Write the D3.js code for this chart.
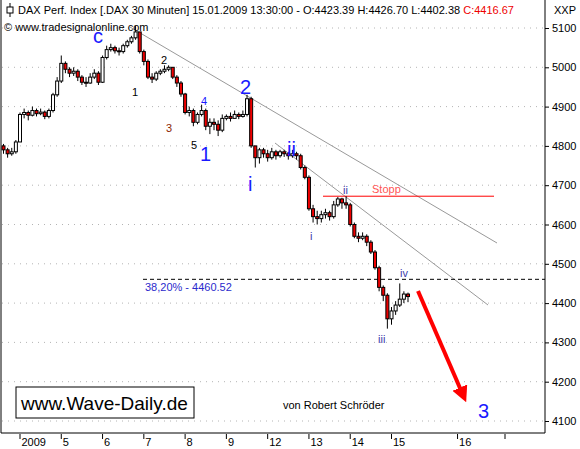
<!DOCTYPE html>
<html><head><meta charset="utf-8">
<script src="https://cdn.jsdelivr.net/npm/d3@7"></script>
<style>body{margin:0;background:#fff}text{font-family:"Liberation Sans",Arial,sans-serif}</style>
</head><body><div id="chart"></div>
<script>
// 30 min candles, 30.12.2008 .. 15.01.2009 13:30
const closes = [4790,4780,4785,4810,
 4880,4885,4878,4890,4882,4886,4875,4890,4930,4965,
 5010,4995,4985,4990,4975,4962,4960,4975,4985,4962,
 5025,5045,5050,5042,5040,5055,5065,5075,5090,5040,
 5015,4975,4970,4985,4990,4995,5000,4975,4960,4932,
 4885,4890,4860,4880,4890,4850,4860,4855,4840,4870,
 4875,4870,4880,4875,4880,4920,4800,4770,4790,4780,
 4770,4785,4775,4785,4780,4775,4780,4775,4745,4720,
 4640,4620,4615,4625,4630,4620,4650,4665,4655,4650,
 4600,4570,4565,4570,4555,4530,4490,4440,4420,4360,
 4380,4395,4410,4423,4416.67]
const highs = [4805,4795,4795,4815,
 4885,4895,4890,4900,4895,4895,4890,4895,4935,4975,
 5030,5015,5000,5000,4995,4980,4975,4985,4995,4990,
 5030,5055,5060,5055,5050,5060,5070,5080,5105,5090,
 5045,5020,4985,4990,4995,5005,5005,5000,4980,4965,
 4935,4900,4895,4885,4905,4895,4870,4870,4865,4880,
 4880,4885,4890,4885,4890,4930,4925,4800,4795,4795,
 4790,4795,4790,4790,4790,4785,4790,4785,4780,4750,
 4725,4650,4635,4635,4640,4635,4660,4670,4668,4672,
 4655,4605,4580,4580,4575,4560,4535,4495,4445,4425,
 4390,4405,4450,4430,4426.70]
const lows = [4780,4770,4775,4780,
 4810,4870,4865,4875,4875,4878,4868,4870,4885,4925,
 4960,4985,4975,4978,4965,4955,4950,4958,4970,4955,
 4960,5020,5040,5035,5030,5035,5050,5060,5070,5035,
 5005,4970,4960,4965,4980,4985,4990,4970,4950,4925,
 4880,4875,4850,4855,4875,4840,4830,4840,4825,4835,
 4865,4862,4870,4868,4872,4875,4795,4745,4755,4770,
 4760,4765,4765,4770,4772,4765,4770,4765,4740,4715,
 4635,4605,4600,4605,4615,4610,4615,4645,4640,4640,
 4595,4565,4555,4560,4545,4525,4485,4430,4405,4335,
 4345,4370,4390,4400,4402.38]
const dayLabels = ["2009","5","6","7","8","9","12","13","14","15","16",""]
const dayIdx = [4,14,24,34,44,54,64,74,84,94,110,121.5]
const yTicks = [4100,4200,4300,4400,4500,4600,4700,4800,4900,5000,5100]

const w = 580, h = 449, plotR = 545, plotB = 433
const svg = d3.select('#chart').append('svg').attr('width', w).attr('height', h)

const x = d3.scaleLinear().domain([4, 94]).range([20, 391.5])
const y = d3.scaleLinear().domain([4100, 5100]).range([421, 28])

// grid
svg.append('g').selectAll('line').data(yTicks).enter().append('line')
  .attr('x1', 2).attr('x2', plotR).attr('y1', d => y(d)).attr('y2', d => y(d))
  .attr('stroke', '#b4b4b4').attr('stroke-dasharray', '1,5')

// frame
svg.append('path').attr('d', `M1,0V${plotB}H${plotR}V0`).attr('fill', 'none').attr('stroke', '#000')

// right axis
const yAxis = d3.axisRight(y).tickValues(yTicks).tickSize(4).tickFormat(d3.format('d'))
const ga = svg.append('g').attr('transform', `translate(${plotR},0)`).call(yAxis)
ga.select('.domain').remove()
ga.selectAll('text').attr('font-size', 11).attr('x', 7).attr('font-family', '"Liberation Sans",Arial')
svg.append('text').attr('x', 554).attr('y', 14).attr('font-size', 11).text('XXP')

// bottom axis
const gx = svg.append('g')
gx.selectAll('line').data(dayIdx).enter().append('line')
  .attr('x1', d => x(d)).attr('x2', d => x(d)).attr('y1', plotB + 1).attr('y2', plotB + 6).attr('stroke', '#000')
gx.selectAll('text').data(dayIdx).enter().append('text')
  .attr('x', d => x(d) + 1.5).attr('y', 446).attr('font-size', 11).text((d, i) => dayLabels[i])

// trendlines
const tl = [[130, 27, 497, 243], [275, 143, 488, 305]]
svg.selectAll('.tl').data(tl).enter().append('line')
  .attr('x1', d => d[0]).attr('y1', d => d[1]).attr('x2', d => d[2]).attr('y2', d => d[3])
  .attr('stroke', '#999').attr('stroke-width', 1)

// fib dashed
svg.append('line').attr('x1', 143).attr('x2', plotR).attr('y1', y(4460.52)).attr('y2', y(4460.52))
  .attr('stroke', '#000').attr('stroke-dasharray', '4,3')
svg.append('text').attr('x', 145).attr('y', 291).attr('font-size', 11).attr('fill', '#2a2acc').text('38,20% - 4460.52')

// stopp
svg.append('line').attr('x1', 323).attr('x2', 494).attr('y1', y(4672)).attr('y2', y(4672)).attr('stroke', '#f00')
svg.append('text').attr('x', 372).attr('y', y(4672) - 3).attr('font-size', 11).attr('fill', '#f55').text('Stopp')

// candles
const opens = closes.map((c, i) => i === 0 ? 4800 : closes[i - 1])
const bw = 3
const cg = svg.append('g').selectAll('g').data(closes).enter().append('g')
cg.append('line').attr('x1', (d, i) => x(i)).attr('x2', (d, i) => x(i))
  .attr('y1', (d, i) => y(highs[i])).attr('y2', (d, i) => y(lows[i])).attr('stroke', '#000')
cg.append('rect').attr('x', (d, i) => x(i) - bw / 2)
  .attr('y', (d, i) => y(Math.max(d, opens[i])))
  .attr('width', bw).attr('height', (d, i) => Math.max(1, Math.abs(y(d) - y(opens[i]))))
  .attr('fill', (d, i) => d < opens[i] ? '#e00' : '#fff').attr('stroke', '#000').attr('stroke-width', 1)

// forecast arrow
svg.append('defs').append('marker').attr('id', 'ah').attr('viewBox', '0 0 10 10').attr('refX', 5).attr('refY', 5)
  .attr('markerWidth', 4).attr('markerHeight', 4).attr('orient', 'auto')
  .append('path').attr('d', 'M0,0L10,5L0,10z').attr('fill', '#f00')
svg.append('line').attr('x1', 418).attr('y1', 291).attr('x2', 463).attr('y2', 395)
  .attr('stroke', '#f00').attr('stroke-width', 4).attr('marker-end', 'url(#ah)')

// wave labels
const labels = [
  ['c', 93, 43, 20, '#1a1aff'], ['1', 132, 96, 11, '#000'], ['2', 161, 64, 11, '#000'],
  ['3', 166, 132, 11, '#8b2500'], ['4', 201, 105, 11, '#1a1aff'], ['5', 191, 149, 11, '#000'],
  ['1', 200, 161, 20, '#1a1aff'], ['2', 240, 94, 20, '#1a1aff'], ['i', 248, 191, 20, '#1a1aff'],
  ['ii', 287, 156, 20, '#1a1aff'], ['i', 310, 240, 11, '#4040aa'], ['ii', 343, 194, 11, '#4040aa'],
  ['iv', 400, 277, 11, '#4040aa'], ['iii', 378, 343, 11, '#4040aa'], ['3', 478, 418, 20, '#1a1aff']]
svg.selectAll('.wl').data(labels).enter().append('text')
  .attr('x', d => d[1]).attr('y', d => d[2]).attr('font-size', d => d[3]).attr('fill', d => d[4]).text(d => d[0])

// header
const hd = svg.append('text').attr('x', 18).attr('y', 14).attr('font-size', 11)
hd.append('tspan').text('DAX Perf. Index [.DAX  30 Minuten] 15.01.2009 13:30:00 - O:4423.39 H:4426.70 L:4402.38 ')
hd.append('tspan').attr('fill', '#e00').text('C:4416.67')
svg.append('line').attr('x1', 10).attr('x2', 10).attr('y1', 3).attr('y2', 17).attr('stroke', '#000')
svg.append('rect').attr('x', 7).attr('y', 7).attr('width', 6).attr('height', 6).attr('fill', '#fff').attr('stroke', '#000')
svg.append('text').attr('x', 4).attr('y', 31).attr('font-size', 11).text('© www.tradesignalonline.com')

// footer
svg.append('rect').attr('x', 16).attr('y', 387).attr('width', 178).attr('height', 31).attr('fill', '#fff').attr('stroke', '#000')
svg.append('text').attr('x', 21).attr('y', 410).attr('font-size', 19).text('www.Wave-Daily.de')
svg.append('text').attr('x', 283).attr('y', 409).attr('font-size', 11).text('von Robert Schröder')
</script></body></html>
